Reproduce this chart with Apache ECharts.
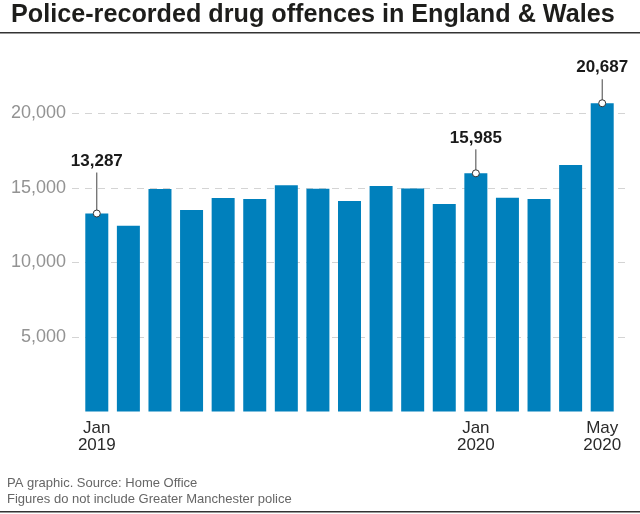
<!DOCTYPE html>
<html>
<head>
<meta charset="utf-8">
<title>Police-recorded drug offences</title>
<script src="https://cdn.jsdelivr.net/npm/echarts@6/dist/echarts.min.js"></script>
<style>
  html, body { margin: 0; padding: 0; background: #fff; }
  #main { width: 640px; height: 514px; }
</style>
</head>
<body>
<div id="main"></div>
<script>
// monthly data, Jan 2019 - May 2020
const months = ['Jan 2019', 'Feb 2019', 'Mar 2019', 'Apr 2019', 'May 2019', 'Jun 2019', 'Jul 2019', 'Aug 2019', 'Sep 2019',
    'Oct 2019', 'Nov 2019', 'Dec 2019', 'Jan 2020', 'Feb 2020', 'Mar 2020', 'Apr 2020', 'May 2020'];
const offences = [13287, 12470, 14930, 13520, 14330, 14260, 15180, 14950, 14130, 15130, 14970, 13930, 15985, 14350, 14260, 16540, 20687];
const yTicks = [5000, 10000, 15000, 20000];
const labelledMonths = ['Jan 2019', 'Jan 2020', 'May 2020'];
const calloutMonths = ['Jan 2019', 'Jan 2020', 'May 2020'];

const titleText = 'Police-recorded drug offences in England & Wales';
const sourceText = 'PA graphic. Source: Home Office';
const noteText = 'Figures do not include Greater Manchester police';

const FONT = '"Liberation Sans", Arial, sans-serif';
const yMax = 22000;
const gridTop = 83.7, gridBottom = 102.5;

// leader line length in px for each callout
const leaderLength = m => m === 'Jan 2019' ? 41 : 24;

const chart = echarts.init(document.getElementById('main'), null, { renderer: 'canvas' });

const option = {
    animation: false,
    backgroundColor: '#fff',
    // grid 0 holds the bars, grid 1 is a little wider and only holds the dashed lines
    grid: [
        { left: 81, right: 22, top: gridTop, bottom: gridBottom },
        { left: 72, right: 13, top: gridTop, bottom: gridBottom }
    ],
    xAxis: [
        {
            type: 'category', gridIndex: 0, data: months,
            axisLine: { show: false }, axisTick: { show: false },
            axisLabel: {
                interval: 0, margin: 8, lineHeight: 17,
                fontFamily: FONT, fontSize: 17, color: '#2a2a2a',
                formatter: v => labelledMonths.includes(v) ? v.replace(' ', '\n') : ''
            }
        },
        { type: 'value', gridIndex: 1, min: 0, max: 1, show: false }
    ],
    yAxis: [
        { type: 'value', gridIndex: 0, min: 0, max: yMax, show: false },
        {
            type: 'value', gridIndex: 1, min: 0, max: yMax, interval: 5000,
            axisLine: { show: false }, axisTick: { show: false },
            splitLine: { show: true, showMinLine: false, showMaxLine: false,
                lineStyle: { color: '#d4d4d4', type: [7, 6], width: 1 } },
            axisLabel: {
                margin: 6, fontFamily: FONT, fontSize: 18, color: '#939393',
                padding: [2, 0, 0, 0], showMaxLabel: false,
                formatter: v => yTicks.includes(v) ? v.toLocaleString('en-GB') : ''
            }
        }
    ],
    series: [
        {
            type: 'bar', xAxisIndex: 0, yAxisIndex: 0, data: offences,
            barWidth: 23, itemStyle: { color: '#0080bc' }, z: 2
        },
        {
            // callouts: leader, white dot and bold number
            type: 'custom', xAxisIndex: 0, yAxisIndex: 0, z: 5, silent: true,
            data: calloutMonths.map(m => [m, offences[months.indexOf(m)]]),
            renderItem: (params, api) => {
                const m = months[api.value(0)];
                const p = api.coord([api.value(0), api.value(1)]);
                const len = leaderLength(m);
                return {
                    type: 'group',
                    children: [
                        { type: 'line', shape: { x1: p[0], y1: p[1], x2: p[0], y2: p[1] - len },
                            style: { stroke: '#444', lineWidth: 1 } },
                        { type: 'circle', shape: { cx: p[0], cy: p[1], r: 3.5 },
                            style: { fill: '#fff', stroke: '#333', lineWidth: 1 } },
                        { type: 'text', style: {
                            x: p[0], y: p[1] - len - 3,
                            text: api.value(1).toLocaleString('en-GB'),
                            align: 'center', verticalAlign: 'bottom',
                            font: 'bold 17px "Liberation Sans", Arial, sans-serif', fill: '#1a1a1a'
                        } }
                    ]
                };
            }
        }
    ],
    graphic: [
        { type: 'text', left: 11, top: 3, style: { text: titleText, font: 'bold 25.2px ' + FONT, fill: '#1d1d1b' } },
        { type: 'rect', shape: { x: 0, y: 32, width: 640, height: 1.4 }, style: { fill: '#333' } },
        { type: 'text', left: 7, top: 477, style: { text: sourceText, font: '13px ' + FONT, fill: '#666' } },
        { type: 'text', left: 7, top: 493, style: { text: noteText, font: '13px ' + FONT, fill: '#666' } },
        { type: 'rect', shape: { x: 0, y: 511, width: 640, height: 1.4 }, style: { fill: '#333' } }
    ]
};

chart.setOption(option);
</script>
</body>
</html>
